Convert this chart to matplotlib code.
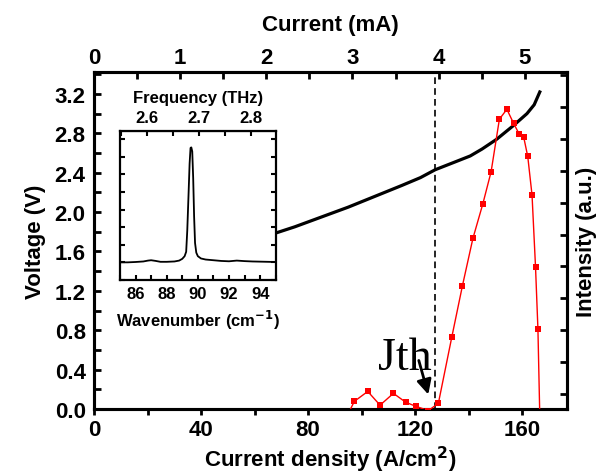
import numpy as np
import matplotlib
matplotlib.use("Agg")
import matplotlib.pyplot as plt
from matplotlib.ticker import MultipleLocator, NullFormatter, FixedLocator

plt.rcParams['font.family'] = ['Liberation Sans', 'DejaVu Sans']
plt.rcParams['font.weight'] = 'bold'
plt.rcParams['mathtext.default'] = 'bf'

# ---- data ----
# Voltage vs current density
j_volt = [66, 75, 85, 95, 105, 115, 122, 127.5, 135, 140.6, 145, 150.5, 156.8, 161.8, 164.5, 166.6]
voltage = [1.77, 1.85, 1.95, 2.05, 2.16, 2.27, 2.35, 2.43, 2.51, 2.57, 2.64, 2.74, 2.88, 3.0, 3.09, 3.22]

# Light intensity vs current density (a.u.)
j_int = [94.5, 97.3, 102.3, 106.9, 111.9, 116.5, 120.4, 125.0, 128.7, 133.7, 137.7, 141.6,
         145.3, 148.4, 151.5, 154.3, 156.8, 158.8, 160.6, 162.1, 163.7, 165.0, 165.9, 166.6]
intensity = [-0.7, -0.23, 0.08, -0.35, 0.02, -0.26, -0.39, -0.52, -0.29, 1.78, 3.40, 4.88,
             5.96, 6.97, 8.62, 8.93, 8.49, 8.17, 8.05, 7.45, 6.24, 3.99, 2.04, -0.7]

# Inset spectrum
wavenumber = [85.0, 85.5, 86.0, 86.5, 86.8, 87.0, 87.3, 87.6, 88.0, 88.5, 88.8, 89.0, 89.15,
              89.25, 89.32, 89.4, 89.47, 89.53, 89.58, 89.64, 89.7, 89.76, 89.82, 89.9,
              90.0, 90.2, 90.5, 91.0, 91.5, 92.0, 92.5, 93.0, 93.5, 94.0, 94.5, 95.0]
spectrum = [0.0, 0.0, 0.02, 0.05, 0.1, 0.12, 0.08, 0.03, 0.03, 0.05, 0.1, 0.2, 0.35,
            0.6, 1.8, 3.8, 5.6, 6.5, 6.53, 6.3, 4.8, 2.6, 1.1, 0.55,
            0.35, 0.22, 0.16, 0.12, 0.08, 0.06, 0.1, 0.07, 0.05, 0.04, 0.03, 0.02]

current_ticks = [0, 1, 2, 3, 4, 5]
current_minor = [0.5, 1.5, 2.5, 3.5, 4.5, 5.5]
freq_ticks = [2.6, 2.7, 2.8]
freq_minor = [2.55, 2.65, 2.75, 2.85]

j_threshold = 127.5
ma_per_jcm2 = 1 / 32.2
thz_per_cm = 0.0299792458

fig = plt.figure(figsize=(6.0, 4.77), dpi=100)
ax = fig.add_axes([0.1567, 0.1405, 0.788, 0.7065])

ax.plot(j_volt, voltage, color='black', lw=2.3, zorder=3)
ax.axvline(j_threshold, color='black', lw=1.2, dashes=(4, 2.5), zorder=2)
ax.set_xlim(0, 176.7)
ax.set_ylim(0, 3.423)
ax.xaxis.set_major_locator(MultipleLocator(40))
ax.xaxis.set_minor_locator(MultipleLocator(20))
ax.yaxis.set_major_locator(MultipleLocator(0.4))
ax.yaxis.set_minor_locator(MultipleLocator(0.2))
ax.yaxis.set_major_formatter(matplotlib.ticker.FormatStrFormatter('%.1f'))
ax.tick_params(axis='x', which='both', direction='out', length=4, width=2, labelsize=16, pad=3, top=False)
ax.tick_params(axis='y', which='both', direction='in', length=5, width=2, labelsize=16, pad=6, right=False)
ax.set_xlabel('Current density (A/cm$^{2}$)', fontsize=16, fontweight='bold', labelpad=3)
ax.set_ylabel('Voltage (V)', fontsize=16, fontweight='bold', labelpad=6)
for s in ax.spines.values():
    s.set_linewidth(2.2)

sec = ax.secondary_xaxis('top', functions=(lambda j: np.asarray(j) * ma_per_jcm2,
                                           lambda m: np.asarray(m) / ma_per_jcm2))
sec.xaxis.set_major_locator(FixedLocator(current_ticks))
sec.xaxis.set_minor_locator(FixedLocator(current_minor))
sec.tick_params(which='both', direction='in', length=5, width=2, labelsize=16, pad=3)
sec.set_xlabel('Current (mA)', fontsize=16, fontweight='bold', labelpad=12)

ax2 = ax.twinx()
ax2.plot(j_int, intensity, color='red', lw=1, marker='s', ms=4.5, mew=0, zorder=3)
ax2.set_ylim(-0.47, 10.1)
ax2.yaxis.set_major_locator(MultipleLocator(1))
ax2.yaxis.set_major_formatter(NullFormatter())
ax2.tick_params(axis='y', direction='in', length=5, width=2)
ax2.set_ylabel('Intensity (a.u.)', fontsize=16, fontweight='bold', labelpad=3)
for s in ax2.spines.values():
    s.set_linewidth(2.2)

ax2.annotate('', xy=(125.2, 0.12 / 3.423 * 10.57 - 0.47), xytext=(121.1, 0.52 / 3.423 * 10.57 - 0.47),
             arrowprops=dict(arrowstyle='-|>', lw=2, color='black', mutation_scale=22))
ax.text(106.0, 0.41, 'Jth', fontsize=33, fontweight='normal', family='Liberation Serif',
        va='baseline', ha='left', zorder=5)

# ---- inset ----
ins = fig.add_axes([0.2, 0.411, 0.2595, 0.313])
ins.set_zorder(10)
ins.plot(wavenumber, spectrum, color='black', lw=1.3)
ins.set_xlim(85, 95)
ins.set_ylim(-1, 7.48)
ins.xaxis.set_major_locator(MultipleLocator(2))
ins.xaxis.set_minor_locator(MultipleLocator(1))
ins.yaxis.set_major_locator(MultipleLocator(1))
ins.yaxis.set_major_formatter(NullFormatter())
ins.tick_params(which='both', direction='in', length=3.5, width=1.5, labelsize=12,
                left=True, right=True, top=False, pad=4)
ins.set_xlabel('Wavenumber (cm$^{-1}$)', fontsize=12, fontweight='bold', labelpad=5)
for s in ins.spines.values():
    s.set_linewidth(1.6)
sec2 = ins.secondary_xaxis('top', functions=(lambda w: np.asarray(w) * thz_per_cm,
                                             lambda f: np.asarray(f) / thz_per_cm))
sec2.xaxis.set_major_locator(FixedLocator(freq_ticks))
sec2.xaxis.set_minor_locator(FixedLocator(freq_minor))
sec2.xaxis.set_major_formatter(matplotlib.ticker.FormatStrFormatter('%.1f'))
sec2.tick_params(which='both', direction='in', length=3.5, width=1.5, labelsize=12, pad=4)
sec2.set_xlabel('Frequency (THz)', fontsize=12, fontweight='bold', labelpad=6)

fig.savefig('out.png', dpi=100)
